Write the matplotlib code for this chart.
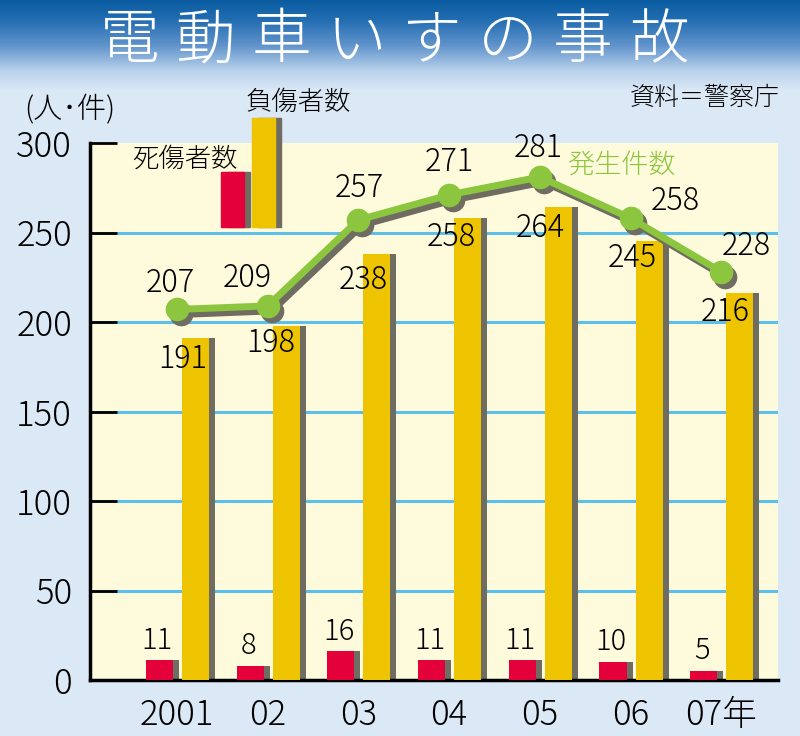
import numpy as np
import matplotlib
matplotlib.use("Agg")
import matplotlib.pyplot as plt
import matplotlib.transforms as mtransforms
from matplotlib.patches import Rectangle

plt.rcParams['font.family'] = ['Noto Sans CJK JP', 'DejaVu Sans']
plt.rcParams['font.weight'] = 'light'

# data
years = ["2001", "02", "03", "04", "05", "06", "07年"]
deaths = [11, 8, 16, 11, 11, 10, 5]            # 死傷者数 (red)
injured = [191, 198, 238, 258, 264, 245, 216]  # 負傷者数 (yellow)
accidents = [207, 209, 257, 271, 281, 258, 228]  # 発生件数 (line)

RED = "#e4003b"
YEL = "#eec400"
GRAY = "#6f6c62"
GREEN = "#8cc63f"
GRID = "#5cc0ea"
PLOTBG = "#fefbdc"

W, H = 800, 736


def px(x, y):
    return x / W, 1 - y / H


fig = plt.figure(figsize=(8, 7.36), dpi=100)

# background with blue title band
bg = fig.add_axes([0, 0, 1, 1], zorder=-10)
stops_y = [0, 20, 45, 70, 90, H]
stops_c = np.array([[0.04, 0.36, 0.63],
                    [0.14, 0.43, 0.70],
                    [0.38, 0.58, 0.80],
                    [0.72, 0.82, 0.92],
                    [0.86, 0.91, 0.965],
                    [0.86, 0.91, 0.965]])
yy = np.arange(H)
grad = np.stack([np.interp(yy, stops_y, stops_c[:, k]) for k in range(3)], axis=1)
bg.imshow(grad[:, None, :], aspect="auto", extent=(0, 1, 0, 1))
bg.axis("off")

# title
for i, ch in enumerate("電動車いすの事故"):
    fig.text(*px(130 + 75.5 * i, 42), ch, color="white", fontsize=43,
             ha="center", va="center")

fig.text(*px(70, 110), "(人･件)", fontsize=21, ha="center", va="center")
fig.text(*px(780, 98), "資料＝警察庁", fontsize=18, ha="right", va="center")

# main axes
ax = fig.add_axes([90 / W, 1 - 680 / H, (778 - 90) / W, (680 - 143) / H])
ax.set_facecolor(PLOTBG)
x = np.arange(len(years))
ax.set_xlim(-0.959, 6.626)
ax.set_ylim(0, 300)

for v in [50, 100, 150, 200, 250]:
    ax.axhline(v, color=GRID, lw=2.2, zorder=0.5)

for s in ["top", "right"]:
    ax.spines[s].set_visible(False)
for s in ["left", "bottom"]:
    ax.spines[s].set_linewidth(2.5)
    ax.spines[s].set_color("black")

ax.set_yticks([0, 50, 100, 150, 200, 250, 300])
ax.tick_params(axis="y", direction="in", length=19.5, width=2, color="black",
               labelsize=25, pad=13)
ax.set_xticks(x)
ax.set_xticklabels(years)
ax.tick_params(axis="x", length=0, labelsize=25, pad=12)

# bars with shadow
bw = 0.298
sh = 0.066
ax.bar(x - 0.342 + sh, deaths, width=bw, align="edge", color=GRAY, zorder=2)
ax.bar(x - 0.342, deaths, width=bw, align="edge", color=RED, zorder=3)
ax.bar(x + 0.055 + sh, injured, width=bw, align="edge", color=GRAY, zorder=2)
ax.bar(x + 0.055, injured, width=bw, align="edge", color=YEL, zorder=3)

# line with shadow
shadow = mtransforms.offset_copy(ax.transData, fig=fig, x=4, y=-5, units="dots")
ax.plot(x, accidents, color=GRAY, lw=5, marker="o", ms=16, transform=shadow,
        zorder=4, solid_capstyle="round")
ax.plot(x, accidents, color=GREEN, lw=5, marker="o", ms=16, zorder=5,
        solid_capstyle="round")

# labels (offsets in pixels)
line_off = [(-7, 26), (-20, 28), (1, 32), (0, 33), (-2, 29), (45, 17), (25, 26)]
for xi, v, (dx, dy) in zip(x, accidents, line_off):
    ax.annotate(str(v), (xi, v), xytext=(dx * 0.72, dy * 0.72),
                textcoords="offset points", ha="center", va="center",
                fontsize=22, zorder=6)

yel_off = [(-13, -21), (-15, -17), (-14, -26), (-16, -19), (-18, -21), (-17, -17), (-15, -19)]
for xi, v, (dx, dy) in zip(x, injured, yel_off):
    ax.annotate(str(v), (xi + 0.204, v), xytext=(dx * 0.72, dy * 0.72),
                textcoords="offset points", ha="center", va="center",
                fontsize=22, zorder=6)

for xi, v in zip(x, deaths):
    ax.annotate(str(v), (xi - 0.193, v), xytext=(-2 * 0.72, 20 * 0.72),
                textcoords="offset points", ha="center", va="center",
                fontsize=21, zorder=6)

fig.text(*px(621, 165), "発生件数", color=GREEN, fontsize=19.5,
         ha="center", va="center", zorder=10)

# legend bars
def legend_bar(x0, top, color):
    bottom = 227
    for dx, c in [(6, GRAY), (0, color)]:
        fx, fy = px(x0 + dx, bottom)
        fig.add_artist(Rectangle((fx, fy), 23 / W, (bottom - top) / H,
                                 transform=fig.transFigure, color=c, zorder=5))

legend_bar(221, 172, RED)
legend_bar(252, 118, YEL)
fig.text(*px(238, 159), "死傷者数", fontsize=19, ha="right", va="center", zorder=10)
fig.text(*px(298, 102), "負傷者数", fontsize=19, ha="center", va="center", zorder=10)

fig.savefig("out.png", dpi=100)
